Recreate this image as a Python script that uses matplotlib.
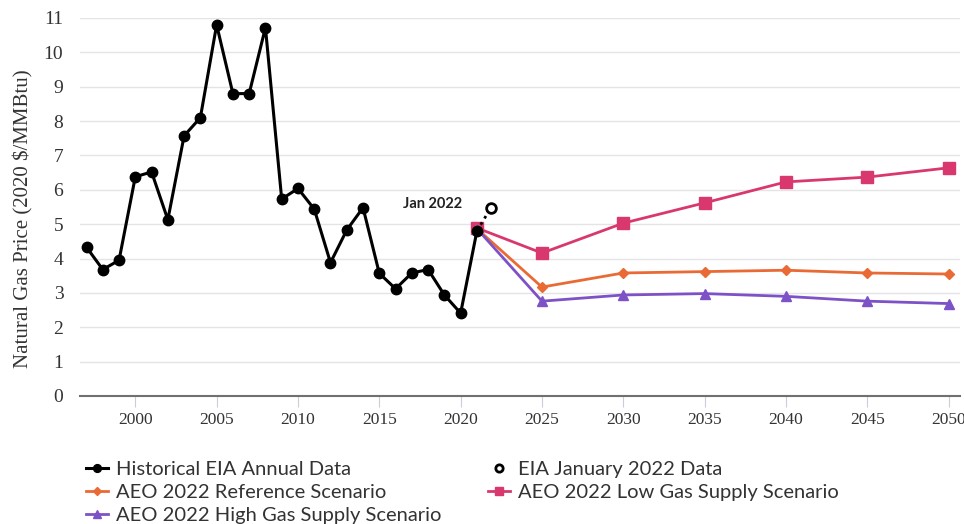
import matplotlib.pyplot as plt
import numpy as np

# historical annual data
hist_years = list(range(1997, 2022))
hist_price = [4.33, 3.68, 3.95, 6.38, 6.52, 5.13, 7.57, 8.10, 10.80, 8.80,
              8.80, 10.72, 5.73, 6.04, 5.44, 3.88, 4.83, 5.48, 3.57, 3.12,
              3.58, 3.68, 2.94, 2.41, 4.80]

jan_year = 2021.85
jan_price = 5.47

# AEO 2022 projections
proj_years = [2021, 2025, 2030, 2035, 2040, 2045, 2050]
ref_price = [4.87, 3.17, 3.58, 3.62, 3.66, 3.58, 3.55]
low_price = [4.89, 4.16, 5.03, 5.62, 6.23, 6.37, 6.64]
high_price = [4.87, 2.76, 2.94, 2.98, 2.90, 2.76, 2.69]

x_ticks = [2000, 2005, 2010, 2015, 2020, 2025, 2030, 2035, 2040, 2045, 2050]

PINK = '#d9386f'
ORANGE = '#ea6a35'
PURPLE = '#7d52c6'

fig = plt.figure(figsize=(9.64, 5.24), dpi=100)
ax = fig.add_axes([80/964, 1-396/524, 880/964, 378/524])

ax.plot(proj_years, low_price, '-s', color=PINK, lw=2, markersize=8, label='AEO 2022 Low Gas Supply Scenario', zorder=3)
ax.plot(proj_years, ref_price, '-D', color=ORANGE, lw=2, markersize=5, label='AEO 2022 Reference Scenario', zorder=3)
ax.plot(proj_years, high_price, '-^', color=PURPLE, lw=2, markersize=7, label='AEO 2022 High Gas Supply Scenario', zorder=3)
ax.plot([hist_years[-1], jan_year], [hist_price[-1], jan_price], ':', color='black', lw=2, zorder=4)
ax.plot([jan_year], [jan_price], 'o', mfc='white', mec='black', mew=2, markersize=7, label='EIA January 2022 Data', zorder=5)
ax.plot(hist_years, hist_price, '-o', color='black', lw=2.2, markersize=7.5, label='Historical EIA Annual Data', zorder=4)

ax.text(2020.1, 5.58, 'Jan 2022', fontsize=10.5, fontweight='bold', family='Lato', ha='right', va='center', color='#222222')

ax.set_xlim(1996.6, 2050.7)
ax.set_ylim(0, 11)
ax.set_yticks(range(0, 12))
ax.set_xticks(x_ticks)
ax.grid(axis='y', color='#e3e3e8', lw=1)
ax.set_axisbelow(True)
for s in ['top', 'right', 'left']:
    ax.spines[s].set_visible(False)
ax.spines['bottom'].set_color('#707070')
ax.spines['bottom'].set_linewidth(1.5)
ax.tick_params(axis='y', length=0, labelsize=14, pad=12, labelcolor='#333333')
ax.tick_params(axis='x', length=8, color='#ccccdd', labelsize=12.5, labelcolor='#333333')
for lab in ax.get_xticklabels() + ax.get_yticklabels():
    lab.set_family('Liberation Serif')
ax.set_ylabel('Natural Gas Price (2020 $/MMBtu)', family='Liberation Serif', fontsize=15, color='#333333')
ax.yaxis.set_label_coords(-0.053, 0.47)

h, l = ax.get_legend_handles_labels()
order = [4, 1, 2, 3, 0]
leg = fig.legend([h[i] for i in order], [l[i] for i in order], loc='upper left',
                 bbox_to_anchor=(78/964, 1-453/524), ncol=2, frameon=False,
                 prop={'family': 'Lato', 'size': 14.5}, handlelength=1.1, handletextpad=0.4,
                 labelspacing=0.28, columnspacing=2.3, borderaxespad=0, markerscale=0.75)
for t in leg.get_texts():
    t.set_color('#333333')

fig.savefig('out.png', dpi=100)
